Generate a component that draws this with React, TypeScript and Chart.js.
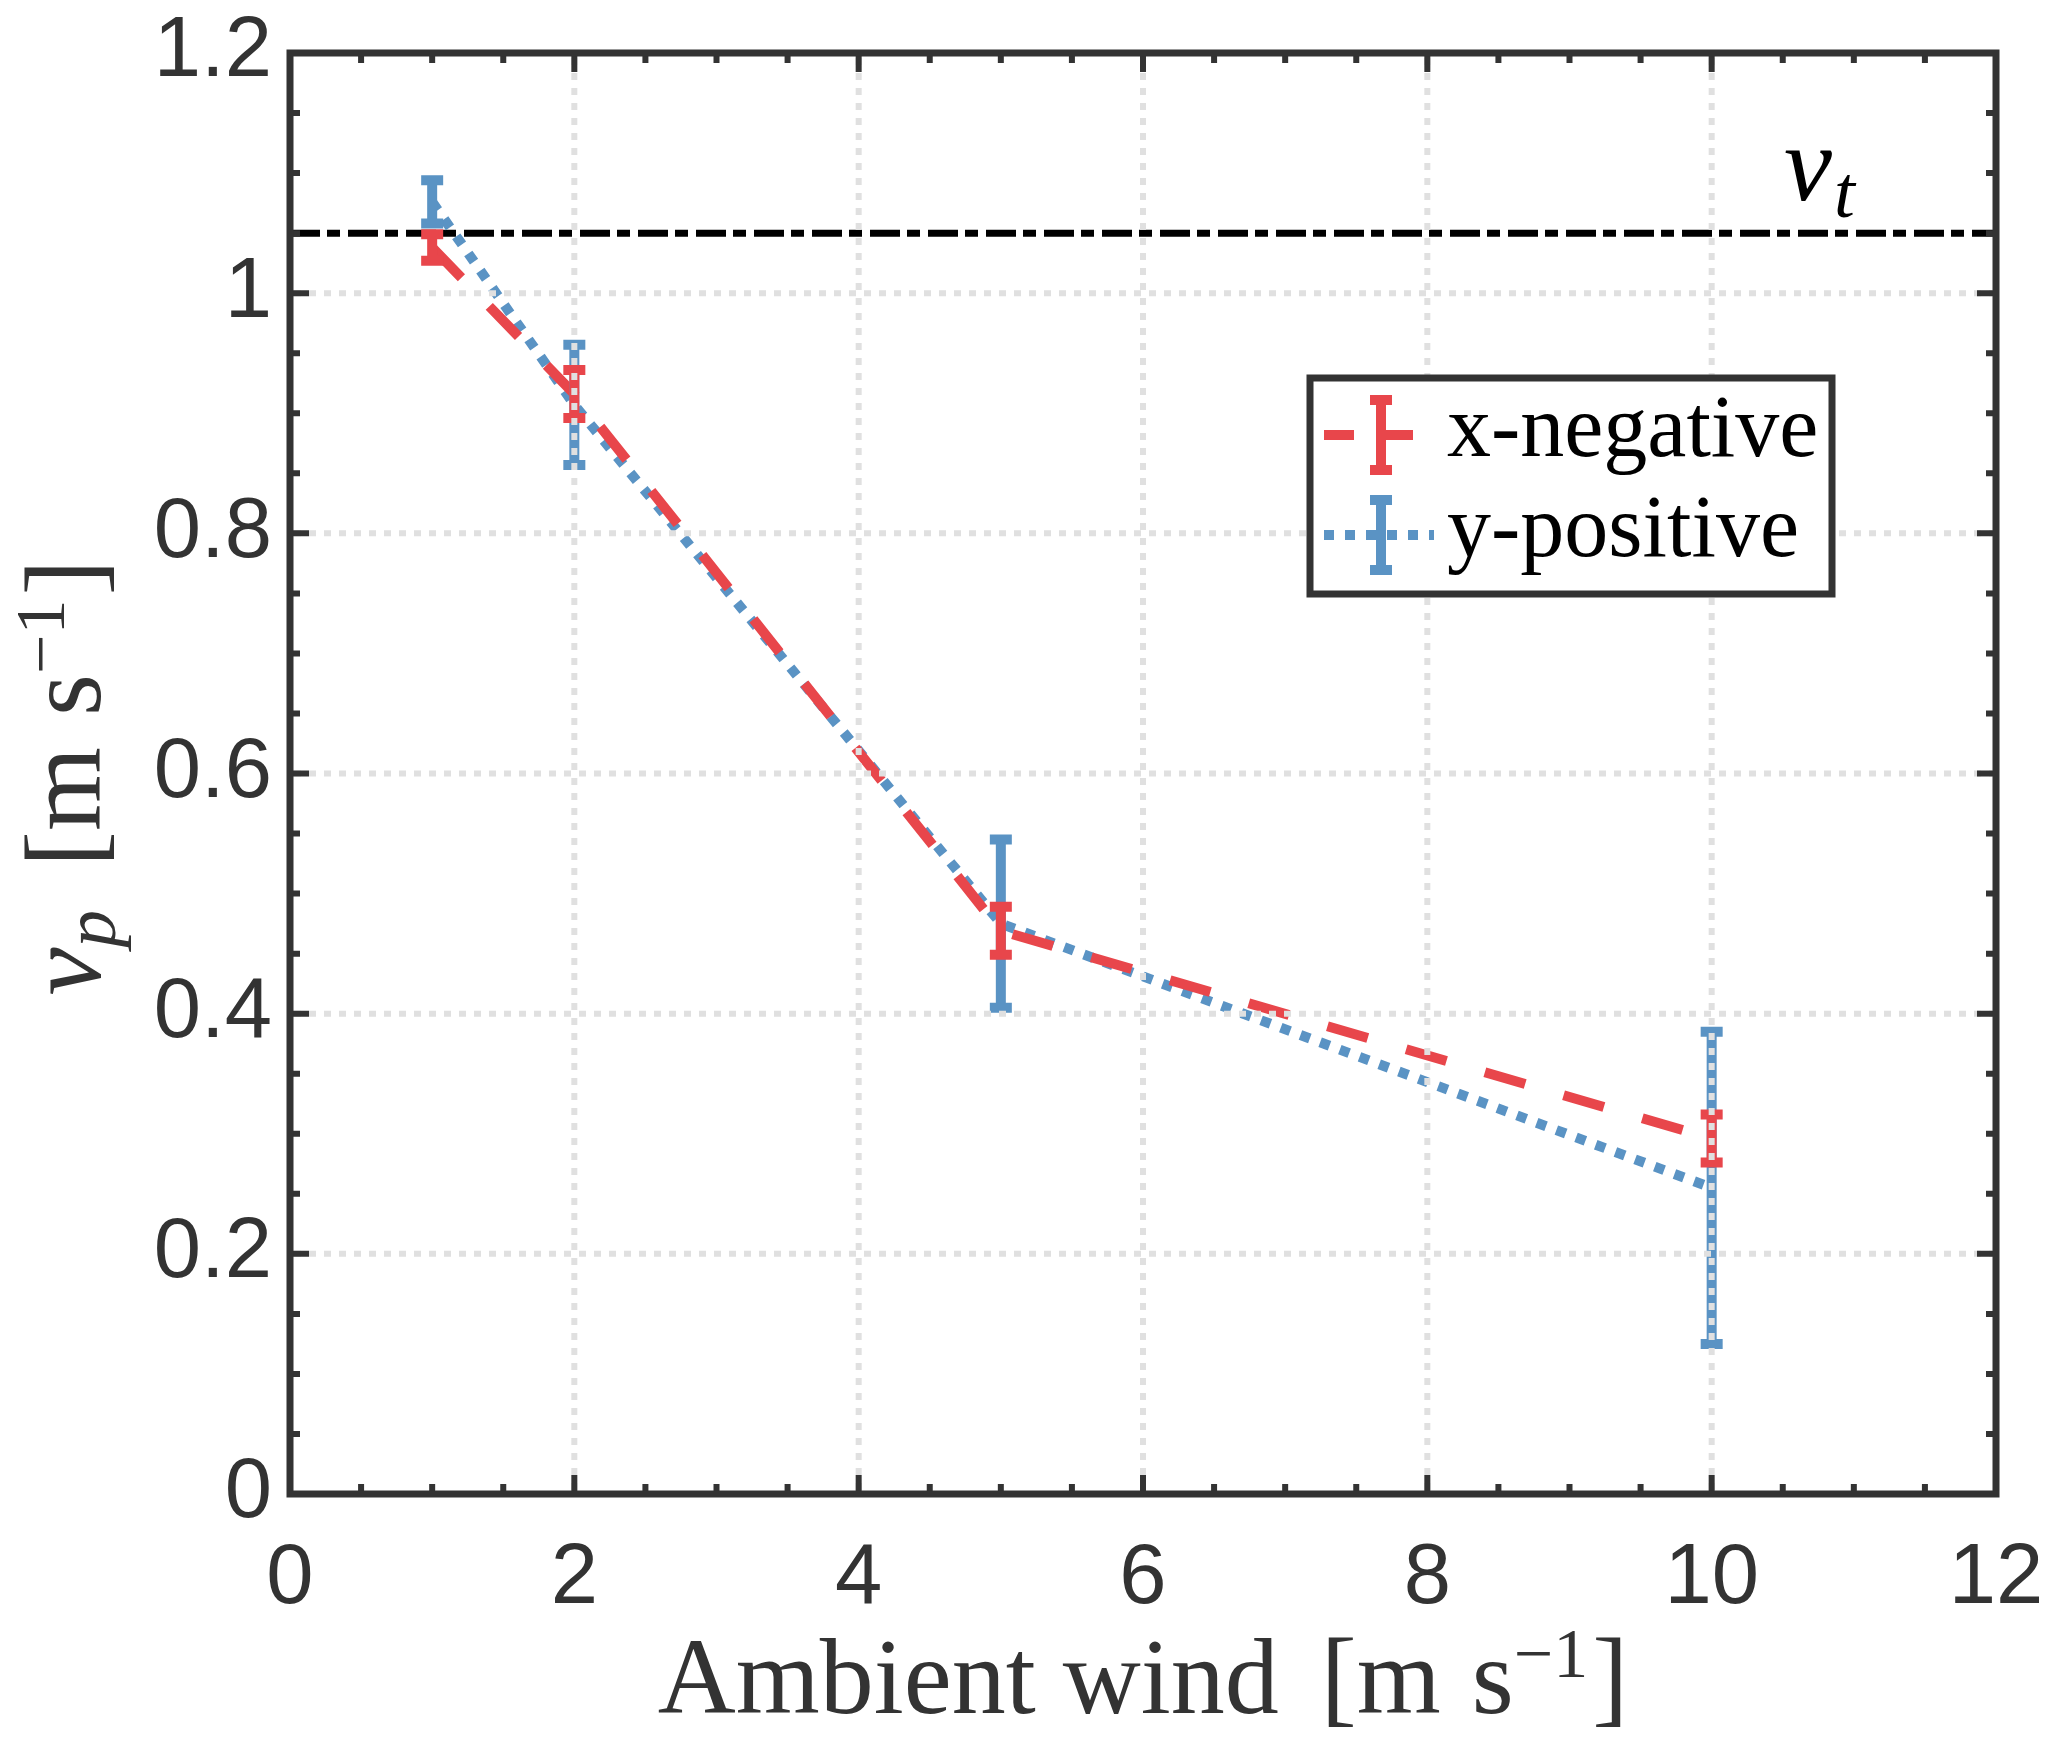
import React, { useEffect, useRef } from 'react';
import { Chart, registerables } from 'chart.js';

Chart.register(...registerables);

// ---------------- data ----------------
const windSpeeds = [1, 2, 5, 10];
const xNegativeMean = [1.038, 0.916, 0.469, 0.296];
const xNegativeErr = [0.011, 0.02, 0.02, 0.02];
const yPositiveMean = [1.076, 0.907, 0.475, 0.255];
const yPositiveErr = [0.018, 0.05, 0.07, 0.13];
const seriesLabels = ['x-negative', 'y-positive'];
const terminalVelocity = 1.05;

const xMin = 0;
const xMax = 12;
const xMajorStep = 2;
const xMinorStep = 0.5;
const yMin = 0;
const yMax = 1.2;
const yMajorStep = 0.2;
const yMinorStep = 0.05;

// ---------------- styles ----------------
const RED = '#E8464B';
const BLUE = '#5A93C4';
const AXIS = '#333333';
const GRID = '#e0e0e0';
const SERIF = '"Liberation Serif", "Times New Roman", serif';
const SANS = '"Liberation Sans", Arial, Helvetica, sans-serif';

const W = 2067;
const H = 1758;

type Seg = { t?: string; size?: number; italic?: boolean; dy?: number; gap?: number };

function segFont(s: Seg) {
  return `${s.italic ? 'italic ' : ''}${s.size}px ${SERIF}`;
}

function richWidth(ctx: CanvasRenderingContext2D, segs: Seg[]) {
  let w = 0;
  for (const s of segs) {
    if (s.gap) {
      w += s.gap;
      continue;
    }
    ctx.font = segFont(s);
    w += ctx.measureText(s.t || '').width;
  }
  return w;
}

function drawRich(ctx: CanvasRenderingContext2D, segs: Seg[], x: number, y: number) {
  let cx = x;
  ctx.textAlign = 'left';
  ctx.textBaseline = 'alphabetic';
  for (const s of segs) {
    if (s.gap) {
      cx += s.gap;
      continue;
    }
    ctx.font = segFont(s);
    ctx.fillText(s.t || '', cx, y + (s.dy || 0));
    cx += ctx.measureText(s.t || '').width;
  }
}

function ticksOf(min: number, max: number, step: number) {
  const out: number[] = [];
  const n = Math.round((max - min) / step);
  for (let i = 0; i <= n; i++) out.push(min + i * step);
  return out;
}

function isMajor(v: number, major: number) {
  const r = v / major;
  return Math.abs(r - Math.round(r)) < 1e-6;
}

function drawErrorBars(
  ctx: CanvasRenderingContext2D,
  chart: any,
  xs: number[],
  means: number[],
  errs: number[],
  color: string
) {
  const xs_ = chart.scales.x;
  const ys_ = chart.scales.y;
  ctx.save();
  ctx.strokeStyle = color;
  ctx.lineWidth = 10;
  ctx.lineCap = 'butt';
  ctx.setLineDash([]);
  for (let i = 0; i < xs.length; i++) {
    const px = xs_.getPixelForValue(xs[i]);
    const top = ys_.getPixelForValue(means[i] + errs[i]);
    const bot = ys_.getPixelForValue(means[i] - errs[i]);
    ctx.beginPath();
    ctx.moveTo(px, top);
    ctx.lineTo(px, bot);
    ctx.moveTo(px - 11, top);
    ctx.lineTo(px + 11, top);
    ctx.moveTo(px - 11, bot);
    ctx.lineTo(px + 11, bot);
    ctx.stroke();
  }
  ctx.restore();
}

const figurePlugin = {
  id: 'figurePlugin',
  beforeDatasetsDraw(chart: any) {
    const { ctx, chartArea } = chart;
    const y = chart.scales.y.getPixelForValue(terminalVelocity);
    ctx.save();
    ctx.beginPath();
    ctx.rect(chartArea.left, chartArea.top, chartArea.right - chartArea.left, chartArea.bottom - chartArea.top);
    ctx.clip();
    ctx.strokeStyle = '#000000';
    ctx.lineWidth = 7;
    ctx.lineCap = 'butt';
    ctx.setLineDash([30, 7, 13, 8]);
    ctx.beginPath();
    ctx.moveTo(chartArea.left, y);
    ctx.lineTo(chartArea.right, y);
    ctx.stroke();
    ctx.restore();
  },
  afterDatasetsDraw(chart: any) {
    const { ctx, chartArea } = chart;
    const xs = chart.scales.x;
    const ys = chart.scales.y;
    const L = chartArea.left;
    const R = chartArea.right;
    const T = chartArea.top;
    const B = chartArea.bottom;

    // error bars
    drawErrorBars(ctx, chart, windSpeeds, yPositiveMean, yPositiveErr, BLUE);
    drawErrorBars(ctx, chart, windSpeeds, xNegativeMean, xNegativeErr, RED);

    // grid on top (dotted)
    ctx.save();
    ctx.strokeStyle = GRID;
    ctx.lineWidth = 6;
    ctx.lineCap = 'butt';
    ctx.setLineDash([7, 8]);
    for (const v of ticksOf(xMin, xMax, xMajorStep)) {
      if (v <= xMin || v >= xMax) continue;
      const px = xs.getPixelForValue(v);
      ctx.beginPath();
      ctx.moveTo(px, B - 4);
      ctx.lineTo(px, T + 4);
      ctx.stroke();
    }
    for (const v of ticksOf(yMin, yMax, yMajorStep)) {
      if (v <= yMin + 1e-9 || v >= yMax - 1e-9) continue;
      const py = ys.getPixelForValue(v);
      ctx.beginPath();
      ctx.moveTo(L + 4, py);
      ctx.lineTo(R - 4, py);
      ctx.stroke();
    }
    ctx.restore();

    // v_t label
    ctx.save();
    ctx.fillStyle = '#000000';
    const vtY = ys.getPixelForValue(terminalVelocity);
    drawRich(
      ctx,
      [
        { t: 'v', size: 108, italic: true },
        { gap: 2 },
        { t: 't', size: 75, italic: true, dy: 17 },
      ],
      R - 212,
      vtY - 33
    );
    ctx.restore();

    // frame and ticks
    ctx.save();
    ctx.strokeStyle = AXIS;
    ctx.setLineDash([]);
    ctx.lineWidth = 6;
    ctx.lineCap = 'butt';
    for (const v of ticksOf(xMin, xMax, xMinorStep)) {
      if (v <= xMin || v >= xMax) continue;
      const len = isMajor(v, xMajorStep) ? 19 : 10;
      const px = xs.getPixelForValue(v);
      ctx.beginPath();
      ctx.moveTo(px, B);
      ctx.lineTo(px, B - len);
      ctx.moveTo(px, T);
      ctx.lineTo(px, T + len);
      ctx.stroke();
    }
    for (const v of ticksOf(yMin, yMax, yMinorStep)) {
      if (v <= yMin + 1e-9 || v >= yMax - 1e-9) continue;
      const len = isMajor(v, yMajorStep) ? 19 : 10;
      const py = ys.getPixelForValue(v);
      ctx.beginPath();
      ctx.moveTo(L, py);
      ctx.lineTo(L + len, py);
      ctx.moveTo(R, py);
      ctx.lineTo(R - len, py);
      ctx.stroke();
    }
    ctx.lineWidth = 7;
    ctx.lineJoin = 'miter';
    ctx.strokeRect(L, T, R - L, B - T);
    ctx.restore();

    // legend
    const lgL = L + 1020;
    const lgT = T + 325;
    const lgW = 522;
    const lgH = 216;
    ctx.save();
    ctx.fillStyle = '#ffffff';
    ctx.fillRect(lgL, lgT, lgW, lgH);
    ctx.strokeStyle = AXIS;
    ctx.lineWidth = 7;
    ctx.setLineDash([]);
    ctx.strokeRect(lgL, lgT, lgW, lgH);
    const entries = [
      { color: RED, dash: [30, 29], end: 103 },
      { color: BLUE, dash: [10, 11], end: 124 },
    ];
    entries.forEach((e, i) => {
      const cy = lgT + 57 + i * 100;
      const cx = lgL + 71;
      ctx.strokeStyle = e.color;
      ctx.lineWidth = 10;
      ctx.lineCap = 'butt';
      ctx.setLineDash(e.dash);
      ctx.beginPath();
      ctx.moveTo(lgL + 14, cy);
      ctx.lineTo(lgL + e.end, cy);
      ctx.stroke();
      ctx.setLineDash([]);
      ctx.beginPath();
      ctx.moveTo(cx, cy - 35);
      ctx.lineTo(cx, cy + 35);
      ctx.moveTo(cx - 11, cy - 35);
      ctx.lineTo(cx + 11, cy - 35);
      ctx.moveTo(cx - 11, cy + 35);
      ctx.lineTo(cx + 11, cy + 35);
      ctx.stroke();
      ctx.fillStyle = '#000000';
      ctx.font = `88px ${SERIF}`;
      ctx.textAlign = 'left';
      ctx.textBaseline = 'alphabetic';
      ctx.fillText(chart.data.datasets[i].label, lgL + 137, cy + 21);
    });
    ctx.restore();
  },
  afterDraw(chart: any) {
    const { ctx, chartArea } = chart;
    const L = chartArea.left;
    const R = chartArea.right;
    const T = chartArea.top;
    const B = chartArea.bottom;
    ctx.save();
    ctx.fillStyle = AXIS;

    // x title
    const xSegs: Seg[] = [
      { t: 'Ambient wind ', size: 108 },
      { gap: 15 },
      { t: '[m ', size: 108 },
      { gap: 4 },
      { t: 's', size: 108 },
      { t: '\u22121', size: 70, dy: -36 },
      { gap: 4 },
      { t: ']', size: 108 },
    ];
    const xw = richWidth(ctx, xSegs);
    drawRich(ctx, xSegs, (L + R) / 2 - xw / 2, B + 219);

    // y title (rotated)
    const ySegs: Seg[] = [
      { t: 'v', size: 108, italic: true },
      { t: 'p', size: 75, italic: true, dy: 15 },
      { t: ' ', size: 108 },
      { gap: 16 },
      { t: '[m ', size: 108 },
      { gap: 4 },
      { t: 's', size: 108 },
      { t: '\u22121', size: 70, dy: -36 },
      { gap: 4 },
      { t: ']', size: 108 },
    ];
    const yw = richWidth(ctx, ySegs);
    ctx.translate(100, (T + B) / 2 + 4);
    ctx.rotate(-Math.PI / 2);
    drawRich(ctx, ySegs, -yw / 2, 0);
    ctx.restore();
  },
};

function zeroPadding(scale: any) {
  scale.paddingTop = 0;
  scale.paddingBottom = 0;
  scale.paddingLeft = 0;
  scale.paddingRight = 0;
}

function formatTick(value: number | string) {
  const v = Number(value);
  return String(Number(v.toFixed(2)));
}

export default function App() {
  const canvasRef = useRef<HTMLCanvasElement | null>(null);

  useEffect(() => {
    const canvas = canvasRef.current;
    if (!canvas) return;
    const chart = new Chart(canvas, {
      type: 'line',
      data: {
        datasets: [
          {
            label: seriesLabels[0],
            data: windSpeeds.map((x, i) => ({ x, y: xNegativeMean[i] })),
            borderColor: RED,
            backgroundColor: RED,
            borderWidth: 10,
            borderDash: [42, 40],
            borderCapStyle: 'butt',
            borderJoinStyle: 'miter',
            pointRadius: 0,
            pointHoverRadius: 0,
            tension: 0,
            fill: false,
          },
          {
            label: seriesLabels[1],
            data: windSpeeds.map((x, i) => ({ x, y: yPositiveMean[i] })),
            borderColor: BLUE,
            backgroundColor: BLUE,
            borderWidth: 10,
            borderDash: [10, 11],
            borderCapStyle: 'butt',
            borderJoinStyle: 'miter',
            pointRadius: 0,
            pointHoverRadius: 0,
            tension: 0,
            fill: false,
          },
        ],
      },
      options: {
        responsive: false,
        maintainAspectRatio: false,
        animation: false,
        devicePixelRatio: 1,
        events: [],
        layout: { padding: { left: 0, top: 53, right: 71, bottom: 0 } },
        scales: {
          x: {
            type: 'linear',
            min: xMin,
            max: xMax,
            grid: { display: false, drawTicks: false },
            border: { display: false },
            ticks: {
              stepSize: xMajorStep,
              color: AXIS,
              padding: 35,
              maxRotation: 0,
              font: { family: SANS, size: 85 },
              callback: formatTick,
            },
            afterFit: (scale: any) => {
              scale.height = 264;
              zeroPadding(scale);
            },
          },
          y: {
            type: 'linear',
            min: yMin,
            max: yMax,
            grid: { display: false, drawTicks: false },
            border: { display: false },
            ticks: {
              stepSize: yMajorStep,
              color: AXIS,
              padding: 18,
              font: { family: SANS, size: 85 },
              callback: formatTick,
            },
            afterFit: (scale: any) => {
              scale.width = 290;
              zeroPadding(scale);
            },
          },
        },
        plugins: {
          legend: { display: false },
          tooltip: { enabled: false },
          title: { display: false },
        },
      },
      plugins: [figurePlugin],
    } as any);
    return () => {
      chart.destroy();
    };
  }, []);

  return (
    <div style={{ position: 'fixed', left: 0, top: 0, width: W, height: H, background: '#ffffff' }}>
      <canvas ref={canvasRef} width={W} height={H} style={{ width: W, height: H, display: 'block' }} />
    </div>
  );
}
